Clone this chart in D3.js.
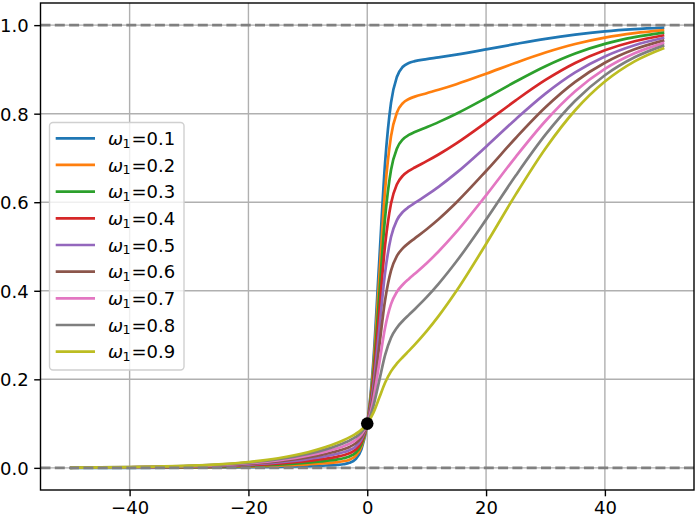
<!DOCTYPE html>
<html>
<head>
<meta charset="utf-8">
<script src="https://cdn.jsdelivr.net/npm/d3@7"></script>
<style>
  html, body { margin: 0; padding: 0; background: #fff; }
  svg { display: block; font-family: "DejaVu Sans", sans-serif; }
</style>
</head>
<body>
<svg id="chart" width="698" height="518"></svg>
<script>
// ---- data ----
const xs = [-50,-40,-30,-25,-20,-15,-10,-7,-5,-4,-3,-2,-1,0,1,2,3,4,5,6,7,8,10,12,15,20,25,30,35,40,45,50];
const omegas = [0.1,0.2,0.3,0.4,0.5,0.6,0.7,0.8,0.9];
const y01 = [0.0001,0.0002,0.0006,0.0009,0.0015,0.0024,0.0039,0.0053,0.0067,0.0082,0.0113,0.0193,0.0413,0.1,0.2362,0.4626,0.6888,0.8247,0.8835,0.9060,0.9146,0.9186,0.9231,0.9270,0.9333,0.9451,0.9575,0.9691,0.9786,0.9859,0.9909,0.9943];
const y02 = [0.0002,0.0004,0.0011,0.0018,0.0030,0.0048,0.0079,0.0105,0.0130,0.0150,0.0185,0.0264,0.0468,0.1,0.2221,0.4245,0.6267,0.7488,0.8026,0.8240,0.8333,0.8385,0.8463,0.8539,0.8665,0.8902,0.9150,0.9381,0.9573,0.9717,0.9818,0.9886];
const y03 = [0.0002,0.0006,0.0017,0.0027,0.0044,0.0073,0.0118,0.0157,0.0192,0.0217,0.0257,0.0335,0.0524,0.1,0.2080,0.3863,0.5647,0.6730,0.7216,0.7421,0.7520,0.7585,0.7695,0.7809,0.7998,0.8353,0.8726,0.9072,0.9359,0.9576,0.9728,0.9829];
const y04 = [0.0003,0.0008,0.0022,0.0036,0.0059,0.0097,0.0157,0.0209,0.0255,0.0285,0.0328,0.0407,0.0580,0.1,0.1939,0.3482,0.5026,0.5972,0.6406,0.6601,0.6707,0.6785,0.6927,0.7078,0.7330,0.7804,0.8301,0.8762,0.9146,0.9434,0.9637,0.9772];
const y05 = [0.0004,0.0010,0.0028,0.0045,0.0074,0.0121,0.0197,0.0262,0.0318,0.0353,0.0400,0.0478,0.0636,0.1,0.1799,0.3101,0.4406,0.5214,0.5597,0.5782,0.5894,0.5985,0.6159,0.6348,0.6663,0.7255,0.7876,0.8453,0.8932,0.9293,0.9546,0.9715];
const y06 = [0.0005,0.0012,0.0033,0.0054,0.0089,0.0145,0.0236,0.0314,0.0380,0.0421,0.0472,0.0549,0.0691,0.1,0.1658,0.2720,0.3786,0.4455,0.4787,0.4962,0.5081,0.5184,0.5391,0.5617,0.5995,0.6705,0.7451,0.8144,0.8718,0.9151,0.9455,0.9657];
const y07 = [0.0005,0.0014,0.0039,0.0063,0.0104,0.0169,0.0275,0.0366,0.0443,0.0489,0.0544,0.0620,0.0747,0.1,0.1517,0.2339,0.3165,0.3697,0.3977,0.4142,0.4268,0.4384,0.4623,0.4887,0.5328,0.6156,0.7026,0.7834,0.8505,0.9010,0.9364,0.9600];
const y08 = [0.0006,0.0016,0.0044,0.0072,0.0119,0.0194,0.0314,0.0418,0.0506,0.0557,0.0616,0.0692,0.0803,0.1,0.1376,0.1957,0.2545,0.2939,0.3167,0.3323,0.3455,0.3584,0.3855,0.4156,0.4660,0.5607,0.6602,0.7525,0.8291,0.8868,0.9274,0.9543];
const y09 = [0.0007,0.0018,0.0050,0.0081,0.0133,0.0218,0.0354,0.0470,0.0568,0.0625,0.0688,0.0763,0.0858,0.1,0.1235,0.1576,0.1924,0.2180,0.2358,0.2503,0.2642,0.2783,0.3087,0.3426,0.3993,0.5058,0.6177,0.7215,0.8078,0.8727,0.9183,0.9486];
const seriesValues = [y01,y02,y03,y04,y05,y06,y07,y08,y09];
const colors = ["#1f77b4","#ff7f0e","#2ca02c","#d62728","#9467bd","#8c564b","#e377c2","#7f7f7f","#bcbd22"];
const xTicks = [-40,-20,0,20,40];
const yTicks = [0.0,0.2,0.4,0.6,0.8,1.0];
const refLines = [0.0,1.0];
const anchorPoint = {x: 0, y: 0.1};

// ---- layout ----
const svg = d3.select("#chart");
const L = 40.5, R = 694, T = 3, B = 490;
const FS = 18;
const x = d3.scaleLinear().domain([-55,55]).range([L,R]);
const y = d3.scaleLinear().domain([-0.05,1.05]).range([B,T]);

// grid
const grid = svg.append("g");
grid.selectAll("line.gx").data(xTicks).enter().append("line")
  .attr("x1", d=>x(d)).attr("x2", d=>x(d)).attr("y1", T).attr("y2", B)
  .attr("stroke", "#b0b0b0").attr("stroke-width", 1.4);
grid.selectAll("line.gy").data(yTicks).enter().append("line")
  .attr("x1", L).attr("x2", R).attr("y1", d=>y(d)).attr("y2", d=>y(d))
  .attr("stroke", "#b0b0b0").attr("stroke-width", 1.4);

// curves
const line = d3.line().x(d=>x(d[0])).y(d=>y(d[1])).curve(d3.curveMonotoneX);
svg.append("clipPath").attr("id","clip").append("rect")
  .attr("x", L).attr("y", T).attr("width", R-L).attr("height", B-T);
const curves = svg.append("g").attr("clip-path","url(#clip)");
seriesValues.forEach((vals,i)=>{
  curves.append("path")
    .datum(xs.map((xv,j)=>[xv, vals[j]]))
    .attr("d", line)
    .attr("fill","none")
    .attr("stroke", colors[i])
    .attr("stroke-width", 2.7)
    .attr("stroke-linejoin","round")
    .attr("stroke-linecap","butt");
});

// dashed reference lines
svg.append("g").selectAll("line").data(refLines).enter().append("line")
  .attr("x1", L).attr("x2", R).attr("y1", d=>y(d)).attr("y2", d=>y(d))
  .attr("stroke", "#808080").attr("stroke-width", 2.7)
  .attr("stroke-dasharray", "10,4.3");

// anchor dot
svg.append("circle").attr("cx", x(anchorPoint.x)).attr("cy", y(anchorPoint.y))
  .attr("r", 6.3).attr("fill", "#000");

// axes
const xAxis = d3.axisBottom(x).tickValues(xTicks).tickSize(6.3).tickPadding(6)
  .tickFormat(d => d3.format("d")(d).replace("-", "\u2212"));
const yAxis = d3.axisLeft(y).tickValues(yTicks).tickSize(6.3).tickPadding(5.5)
  .tickFormat(d3.format(".1f"));
const gx = svg.append("g").attr("transform", `translate(0,${B})`).call(xAxis);
const gy = svg.append("g").attr("transform", `translate(${L},0)`).call(yAxis);
[gx, gy].forEach(g => {
  g.select(".domain").remove();
  g.selectAll(".tick line").attr("stroke", "#000").attr("stroke-width", 1.4);
  g.selectAll(".tick text").attr("fill", "#000").attr("font-size", FS)
    .attr("font-family", "DejaVu Sans");
});
gx.selectAll(".tick text").attr("y", 23.6).attr("dy", 0);
gy.selectAll(".tick text").attr("dy", "0.36em");

// spines
svg.append("rect").attr("x", L).attr("y", T).attr("width", R-L).attr("height", B-T)
  .attr("fill","none").attr("stroke","#000").attr("stroke-width",1.4);

// legend
const lg = svg.append("g");
const lgX = 49.5, lgY = 122.5, lgW = 134.5, lgH = 247.5;
lg.append("rect").attr("x", lgX).attr("y", lgY).attr("width", lgW).attr("height", lgH)
  .attr("rx", 3.5).attr("fill", "#fff").attr("fill-opacity", 0.8)
  .attr("stroke", "#d0d0d0").attr("stroke-width", 1.4);
omegas.forEach((w,i)=>{
  const cy = 138.3 + i*26.67;
  lg.append("line").attr("x1", 55.7).attr("x2", 95).attr("y1", cy).attr("y2", cy)
    .attr("stroke", colors[i]).attr("stroke-width", 2.7);
  const base = cy + 6.6;
  const t = lg.append("text").attr("y", base)
    .attr("font-size", FS).attr("fill", "#000").attr("font-family", "DejaVu Sans");
  t.append("tspan").attr("x", 108).attr("font-style", "italic").text("\u03c9");
  t.append("tspan").attr("x", 122.5).attr("y", base + 2.6).attr("font-size", 12.6).text("1");
  t.append("tspan").attr("x", 131.5).attr("y", base).text("=" + d3.format(".1f")(w));
});
</script>
</body>
</html>
